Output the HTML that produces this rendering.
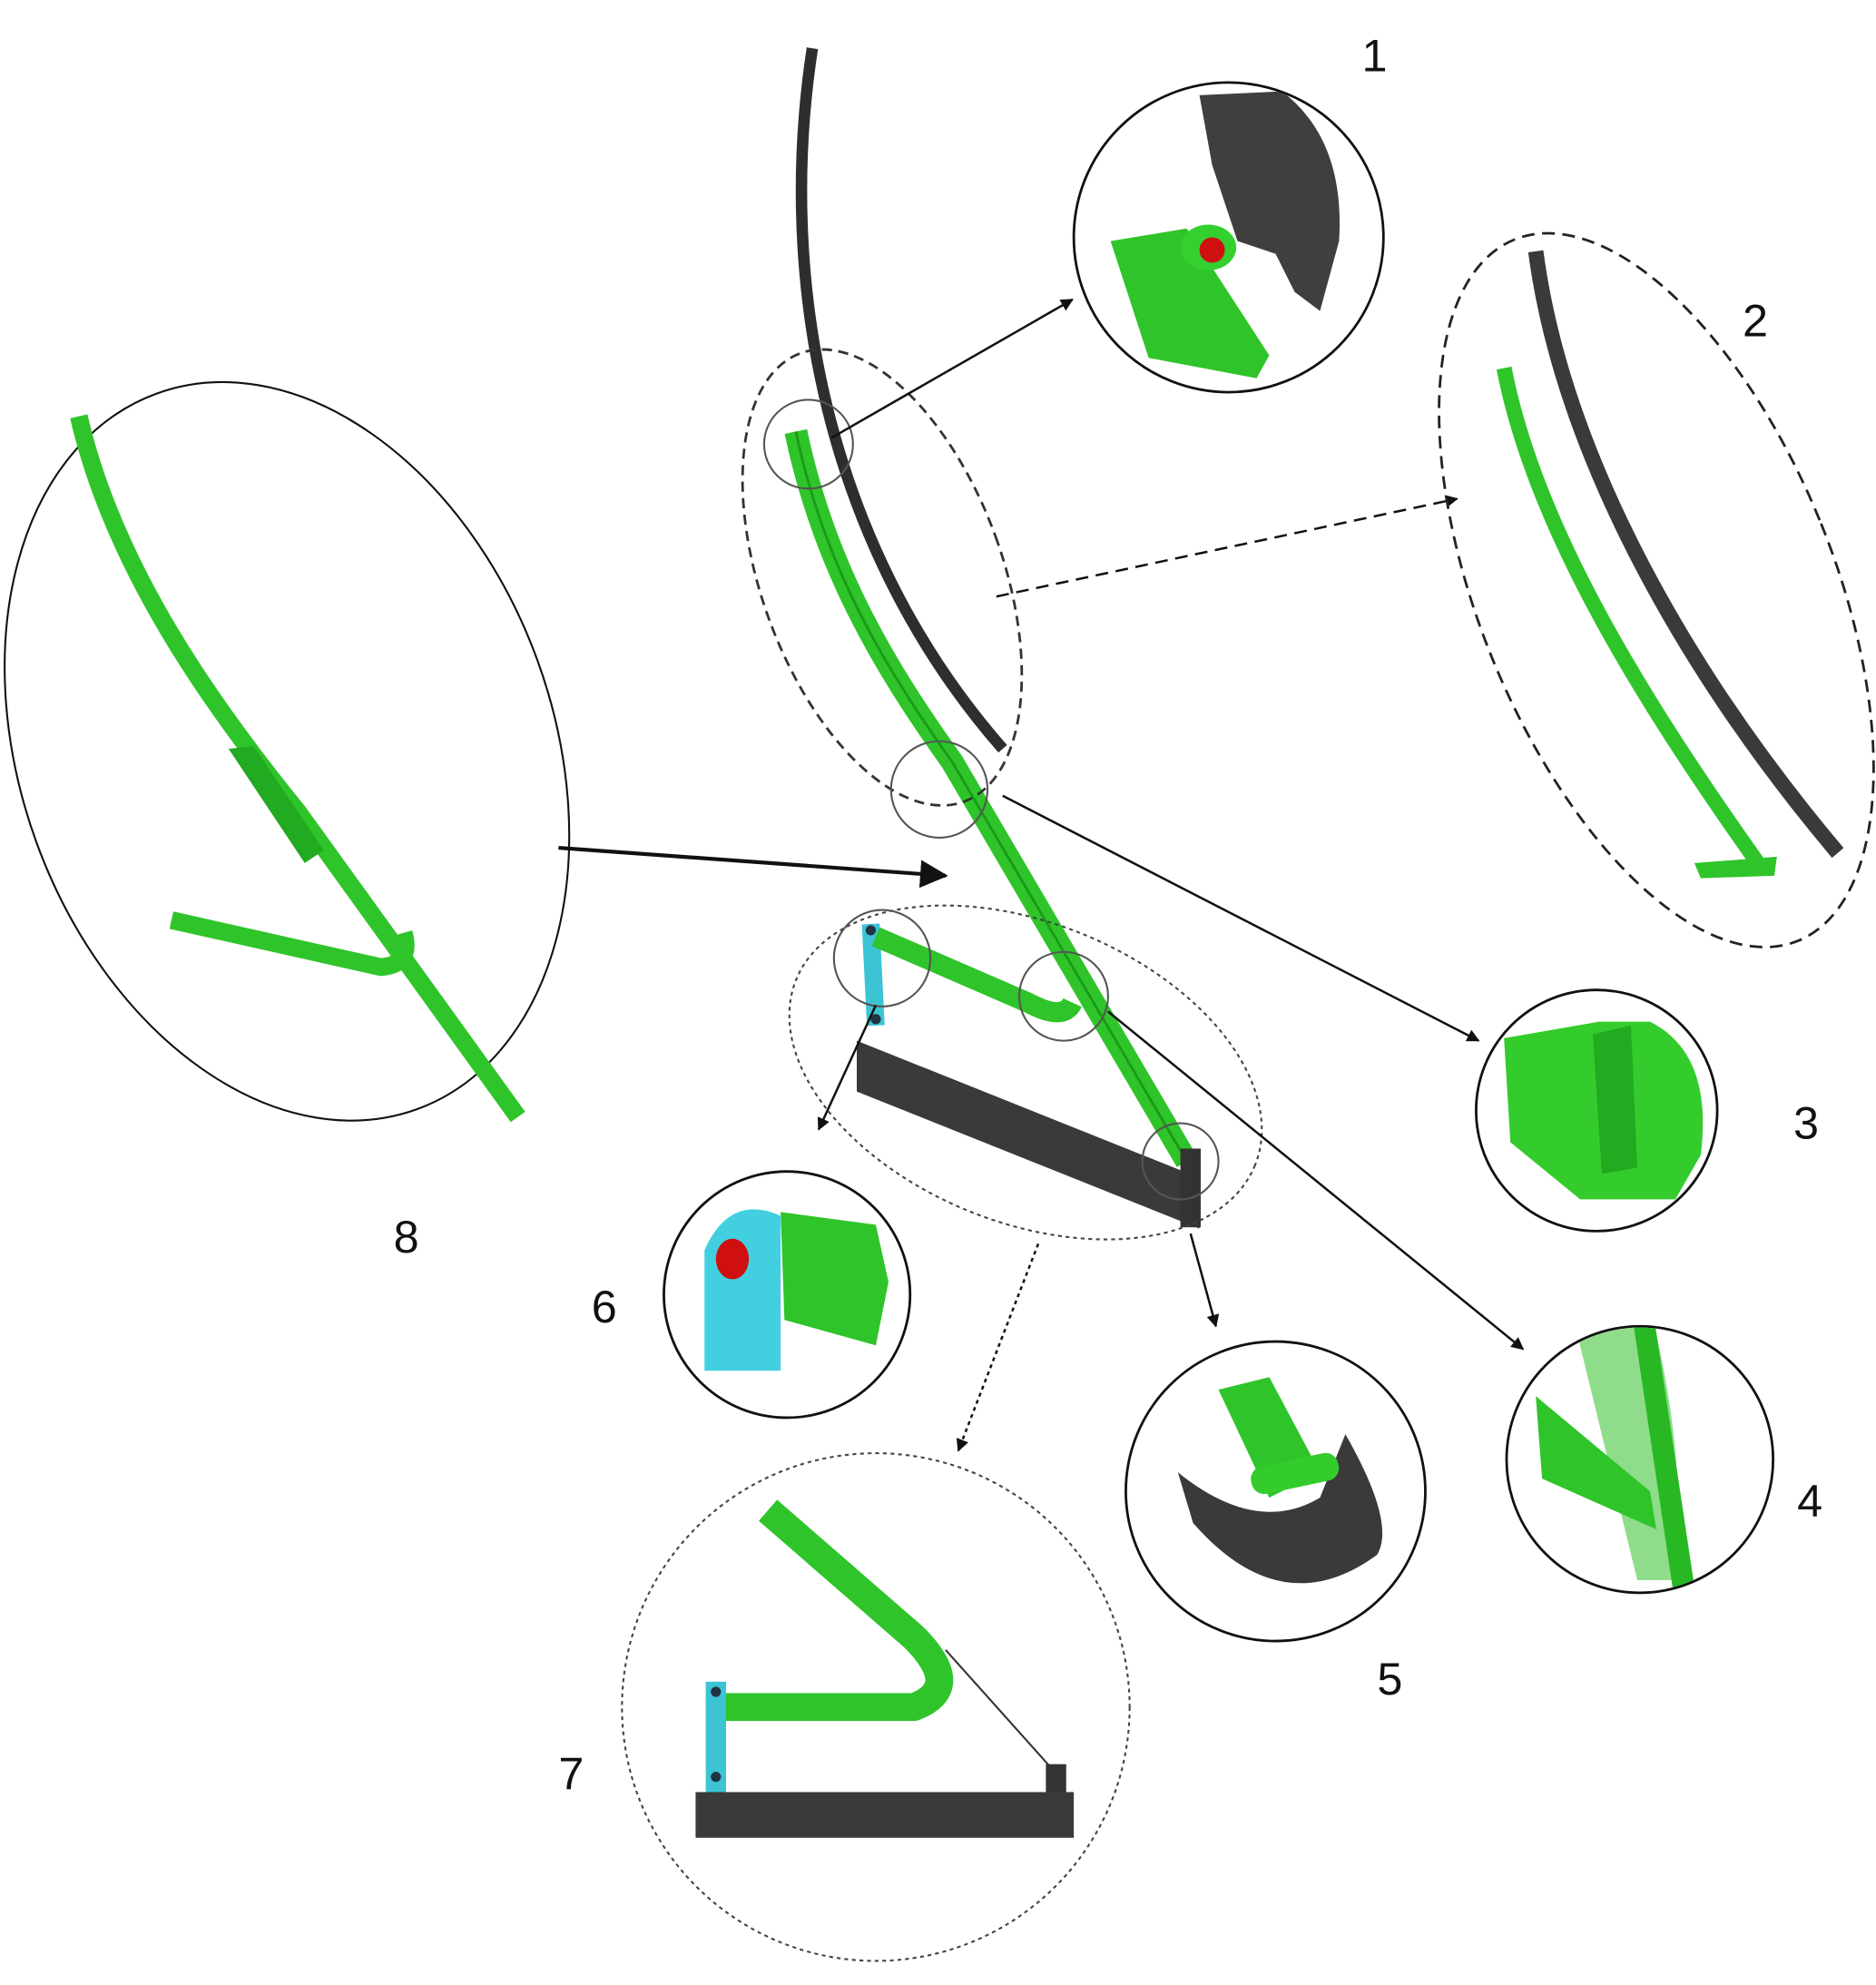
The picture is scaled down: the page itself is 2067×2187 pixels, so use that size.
<!DOCTYPE html>
<html><head><meta charset="utf-8"><style>
html,body{margin:0;padding:0;background:#fff}
svg{display:block}
text{font-family:"Liberation Sans",sans-serif;font-size:36px;fill:#111}
</style></head><body>
<svg width="2067" height="2187" viewBox="0 0 1478 1564" xmlns="http://www.w3.org/2000/svg">
<defs>
<marker id="a" markerWidth="10" markerHeight="10" refX="9" refY="5" orient="auto" markerUnits="userSpaceOnUse"><path d="M0,0 L10,5 L0,10 z" fill="#111"/></marker>
<marker id="b" markerWidth="22" markerHeight="22" refX="20" refY="11" orient="auto" markerUnits="userSpaceOnUse"><path d="M0,0 L22,11 L0,22 z" fill="#111"/></marker>
<clipPath id="c4"><circle cx="1292" cy="1150" r="104"/></clipPath>
<clipPath id="c1"><circle cx="968" cy="187" r="121"/></clipPath>
</defs>
<path d="M640,38 C612,220 650,430 790,590" fill="none" stroke="#2e2e2e" stroke-width="9"/>
<path d="M627,340 C650,450 700,530 750,600 L935,915" fill="none" stroke="#2fc42a" stroke-width="18"/>
<path d="M627,340 C650,450 700,530 750,600 L935,915" fill="none" stroke="#1a9a18" stroke-width="2"/>
<polygon points="675,820 945,928 945,968 675,860" fill="#3a3a3a"/>
<rect x="930" y="905" width="16" height="62" fill="#333"/>
<line x1="686" y1="728" x2="690" y2="808" stroke="#3cc4d4" stroke-width="14"/>
<circle cx="686" cy="733" r="4" fill="#234"/><circle cx="690" cy="803" r="4" fill="#234"/>
<path d="M690,738 L810,790 Q838,805 845,790" fill="none" stroke="#2fc42a" stroke-width="16"/>
<ellipse cx="695" cy="455" rx="95" ry="188" transform="rotate(-20 695 455)" fill="none" stroke="#333" stroke-width="2" stroke-dasharray="8,5"/>
<ellipse cx="808" cy="845" rx="195" ry="118" transform="rotate(22 808 845)" fill="none" stroke="#444" stroke-width="1.5" stroke-dasharray="3,3"/>
<g fill="none" stroke="#555" stroke-width="1.5">
<circle cx="637" cy="350" r="35"/><circle cx="740" cy="622" r="38"/><circle cx="695" cy="755" r="38"/><circle cx="838" cy="785" r="35"/><circle cx="930" cy="915" r="30"/>
</g>
<g stroke="#111" stroke-width="1.8" fill="none">
<line x1="655" y1="345" x2="845" y2="236" marker-end="url(#a)"/>
<line x1="785" y1="470" x2="1148" y2="393" stroke-dasharray="10,6" marker-end="url(#a)"/>
<line x1="790" y1="627" x2="1165" y2="820" marker-end="url(#a)"/>
<line x1="873" y1="797" x2="1200" y2="1063" marker-end="url(#a)"/>
<line x1="690" y1="792" x2="645" y2="890" marker-end="url(#a)"/>
<line x1="938" y1="972" x2="958" y2="1045" marker-end="url(#a)"/>
<line x1="818" y1="980" x2="755" y2="1143" stroke-dasharray="3,3" marker-end="url(#a)"/>
<line x1="440" y1="668" x2="745" y2="690" stroke-width="3" marker-end="url(#b)"/>
</g>
<circle cx="968" cy="187" r="122" fill="none" stroke="#111" stroke-width="2"/>
<g clip-path="url(#c1)">
<path d="M945,75 L1010,72 Q1060,110 1055,190 L1040,245 L1020,230 L1005,200 L975,190 L955,130 Z" fill="#3f3f3f"/>
<path d="M875,190 L935,180 L1000,280 L990,298 L905,282 Z" fill="#2fc42a"/>
<ellipse cx="952" cy="195" rx="22" ry="18" fill="#33d030"/><circle cx="955" cy="197" r="10" fill="#d01010"/>
</g>
<ellipse cx="1305" cy="465" rx="140" ry="298" transform="rotate(-22 1305 465)" fill="none" stroke="#222" stroke-width="2" stroke-dasharray="10,6"/>
<path d="M1210,198 C1230,350 1320,520 1448,672" fill="none" stroke="#3a3a3a" stroke-width="12"/>
<path d="M1185,290 C1210,420 1300,560 1385,680" fill="none" stroke="#2fc42a" stroke-width="12"/>
<path d="M1335,680 L1400,675 L1398,690 L1340,692 Z" fill="#2fc42a"/>
<circle cx="1258" cy="875" r="95" fill="none" stroke="#111" stroke-width="2"/>
<path d="M1185,818 L1260,805 L1300,805 Q1350,830 1340,910 L1320,945 L1245,945 L1190,900 Z" fill="#33cc2c"/>
<path d="M1255,815 L1285,808 L1290,920 L1262,925 Z" fill="#22aa20"/>
<circle cx="1292" cy="1150" r="105" fill="none" stroke="#111" stroke-width="2"/>
<g clip-path="url(#c4)">
<path d="M1240,1040 L1300,1030 Q1330,1150 1320,1245 L1290,1245 Z" fill="#8fdc8a"/>
<path d="M1285,1030 L1302,1030 L1335,1250 L1318,1252 Z" fill="#28b824"/>
<path d="M1210,1100 L1300,1175 L1305,1205 L1215,1165 Z" fill="#2fc42a"/>
</g>
<circle cx="1005" cy="1175" r="118" fill="none" stroke="#111" stroke-width="2"/>
<path d="M928,1160 Q990,1210 1040,1180 L1060,1130 Q1100,1200 1085,1225 Q1010,1280 940,1200 Z" fill="#3a3a3a"/>
<path d="M960,1095 L1000,1085 L1040,1160 L1000,1180 Z" fill="#2fc42a"/>
<rect x="985" y="1150" width="70" height="22" rx="10" fill="#33cc2c" transform="rotate(-12 1020 1160)"/>
<circle cx="620" cy="1020" r="97" fill="none" stroke="#111" stroke-width="2"/>
<path d="M615,955 L690,965 L700,1010 L690,1060 L618,1040 Z" fill="#2fc42a"/>
<path d="M555,985 Q575,940 615,958 L615,1080 L555,1080 Z" fill="#42d0e0"/>
<ellipse cx="577" cy="992" rx="13" ry="16" fill="#d01010"/>
<circle cx="690" cy="1345" r="200" fill="none" stroke="#444" stroke-width="1.5" stroke-dasharray="3,3"/>
<path d="M605,1190 L720,1290 Q760,1330 720,1345 L565,1345" fill="none" stroke="#2fc42a" stroke-width="22" stroke-linejoin="round"/>
<line x1="745" y1="1300" x2="830" y2="1395" stroke="#333" stroke-width="1.5"/>
<rect x="556" y="1325" width="16" height="88" fill="#3cc4d4"/>
<circle cx="564" cy="1333" r="4" fill="#234"/><circle cx="564" cy="1400" r="4" fill="#234"/>
<rect x="824" y="1390" width="16" height="30" fill="#333"/>
<rect x="548" y="1412" width="298" height="36" fill="#3a3a3a"/>
<ellipse cx="226" cy="592" rx="210" ry="300" transform="rotate(-20 226 592)" fill="none" stroke="#111" stroke-width="1.5"/>
<path d="M62,328 C90,450 170,560 235,640 L408,880" fill="none" stroke="#2fc42a" stroke-width="14"/>
<path d="M135,725 L300,762 Q325,760 318,735" fill="none" stroke="#2fc42a" stroke-width="14"/>
<path d="M180,590 L200,588 L255,670 L240,680 Z" fill="#22aa20"/>
<text x="1073" y="56">1</text><text x="1373" y="265">2</text><text x="1413" y="897">3</text>
<text x="1416" y="1195">4</text><text x="1085" y="1335">5</text><text x="466" y="1042">6</text>
<text x="440" y="1410">7</text><text x="310" y="987">8</text>
</svg>
</body></html>
